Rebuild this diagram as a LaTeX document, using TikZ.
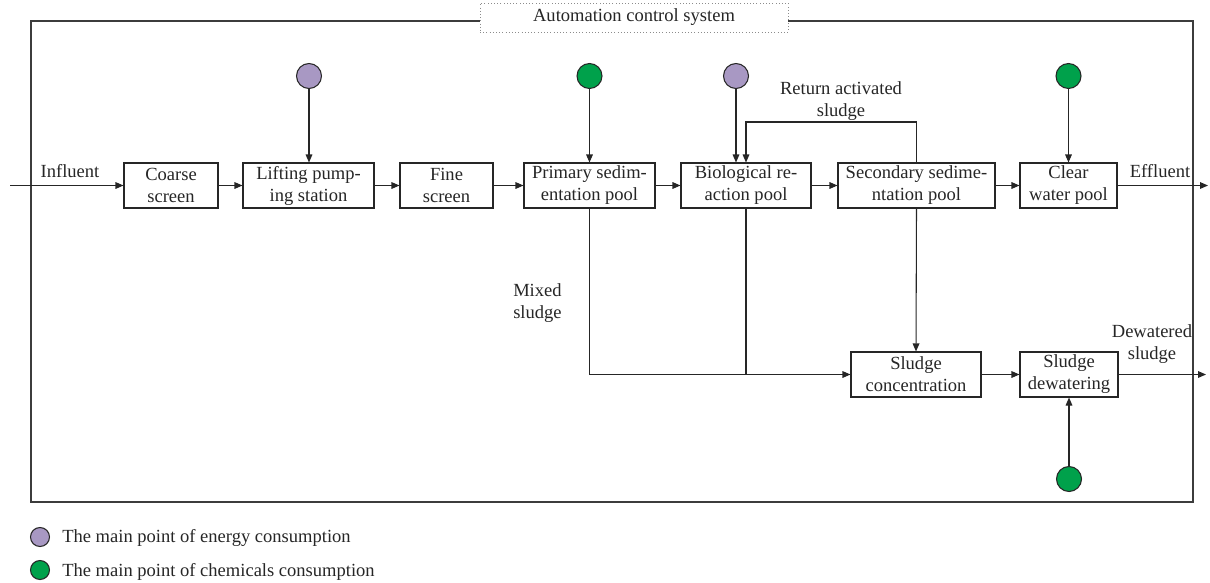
\documentclass[tikz,border=0pt]{standalone}
\usepackage{fontspec}
\setmainfont{Liberation Serif}
\usetikzlibrary{arrows.meta}
\definecolor{energy}{RGB}{168,152,195}
\definecolor{chem}{RGB}{0,161,75}
\definecolor{frame}{RGB}{60,60,60}
\tikzset{
  every node/.style={font=\fontsize{13.9}{16.5}\selectfont, text=black!85},
  stage/.style={draw=black!85, line width=0.8pt, align=center, inner sep=0pt,
                minimum height=33.75pt, fill=white},
  flow/.style={draw=black!85, line width=0.8pt, -{Triangle[length=6pt,width=5pt]}},
  pipe/.style={draw=black!85, line width=0.8pt},
  spot/.style={circle, draw=black!85, line width=0.8pt, minimum size=18.75pt, inner sep=0pt},
  keydot/.style={circle, draw=black!85, line width=0.8pt, minimum size=14.25pt, inner sep=0pt},
  lbl/.style={align=center, inner sep=0pt}
}
\begin{document}
\begin{tikzpicture}[x=0.75pt,y=-0.75pt]
\useasboundingbox (0,0) rectangle (1210,582);

% system boundary and its title
\draw[frame, line width=1.1pt] (31,21) rectangle (1193,502);
\node[draw=black!45, dotted, fill=white, minimum width=231pt, minimum height=21.75pt,
      inner sep=0pt] (sys) at (634,17.5) {Automation control system};

% main water line
\node[stage, minimum width=70.5pt]  (coarse) at (171,185.5)   {Coarse\\screen};
\node[stage, minimum width=98.25pt] (lift)   at (308.5,185.5) {Lifting pump-\\ing station};
\node[stage, minimum width=69.75pt] (fine)   at (446.5,185.5) {Fine\\screen};
\node[stage, minimum width=98.25pt] (prim)   at (589.5,185.5) {Primary sedim-\\entation pool};
\node[stage, minimum width=97.5pt]  (bio)    at (746,185.5)   {Biological re-\\action pool};
\node[stage, minimum width=117.75pt](sec)    at (916.5,185.5) {Secondary sedime-\\ntation pool};
\node[stage, minimum width=72.75pt] (clear)  at (1068.5,185.5){Clear\\water pool};

% sludge line
\node[stage, minimum width=97.5pt]  (conc)   at (916,374.5)   {Sludge\\concentration};
\node[stage, minimum width=73.5pt]  (dew)    at (1069,374.5)  {Sludge\\dewatering};

% consumption points
\node[spot, fill=energy] (liftE)  at (309,76)  {};
\node[spot, fill=chem]   (primC)  at (589.5,76) {};
\node[spot, fill=energy] (bioE)   at (736,76)  {};
\node[spot, fill=chem]   (clearC) at (1068.5,76) {};
\node[spot, fill=chem]   (dewC)   at (1069,479) {};

% inlet / outlet ends
\coordinate (in)   at (10,185.5);
\coordinate (out)  at (1208,185.5);
\coordinate (sout) at (1206,374.5);
\coordinate (ret)  at (916.5,122);

% water flow
\draw[flow] (in) -- (coarse);
\draw[flow] (coarse) -- (lift);
\draw[flow] (lift) -- (fine);
\draw[flow] (fine) -- (prim);
\draw[flow] (prim) -- (bio);
\draw[flow] (bio) -- (sec);
\draw[flow] (sec) -- (clear);
\draw[flow] (clear) -- (out);

% consumption feeds
\draw[flow] (liftE) -- (lift.north -| liftE);
\draw[flow] (primC) -- (prim.north);
\draw[flow] (bioE) -- (bio.north -| bioE);
\draw[flow] (clearC) -- (clear.north);
\draw[flow] (dewC) -- (dew.south);

% return activated sludge
\draw[pipe] (sec.north) -- (ret);
\draw[flow] (ret) -| (bio.north);

% sludge flow
\draw[flow] (prim.south) |- (conc.west);
\draw[pipe] (bio.south) -- (bio.south |- conc.west);
\draw[flow] (sec.south) -- (conc.north);
\draw[flow] (conc) -- (dew);
\draw[flow] (dew) -- (sout);

% flow labels
\node[lbl, anchor=base] (linf) at (70,177) {Influent};
\node[lbl, anchor=base] (leff) at (1160,177) {Effluent};
\node[lbl] (lret) at (841,101) {Return activated\\sludge};
\node[lbl, align=left, anchor=west] (lmix) at (513,303) {Mixed\\sludge};
\node[lbl] (ldew) at (1152,344) {Dewatered\\sludge};

% legend
\node[keydot, fill=energy] (k1) at (40,537) {};
\node[keydot, fill=chem]   (k2) at (40,570) {};
\node[lbl, anchor=base west] (t1) at (62,542) {The main point of energy consumption};
\node[lbl, anchor=base west] (t2) at (62,576) {The main point of chemicals consumption};
\end{tikzpicture}
\end{document}
